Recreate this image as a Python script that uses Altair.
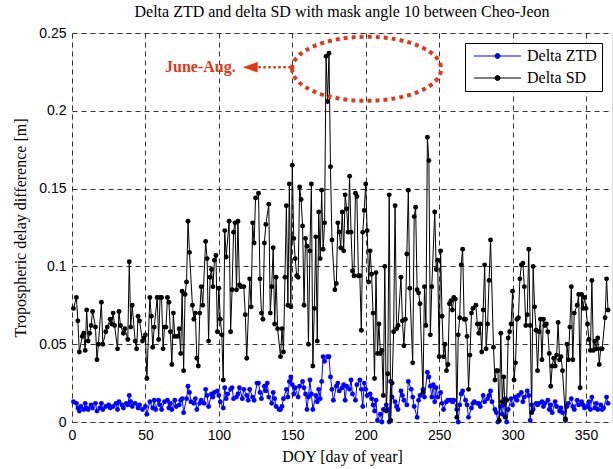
import altair as alt
import pandas as pd

# ---------------- data ----------------
SD_DAY = [1,3,4,5,7,8,9,10,11,12,13,14,16,17,18,20,21,23,24,26,27,28,29,31,32,33,35,36,38,39,40,41,43,44,45,46,48,49,50,51,53,54,55,56,58,59,
          60,61,62,63,64,65,66,67,68,69,70,72,73,74,75,76,77,78,79,80,82,83,84,85,86,87,88,89,91,92,93,94,95,96,97,98,99,100,101,102,103,104,105,107,108,109,110,111,112,113,114,115,117,118,119,
          121,122,123,124,125,127,128,129,130,131,132,134,135,136,137,138,139,140,142,143,144,145,146,147,148,149,150,151,152,153,154,155,156,157,158,159,160,161,162,163,164,165,166,167,168,169,170,171,172,173,174,175,176,177,179,180,
          181,182,183,184,185,186,187,188,189,190,191,192,193,194,195,196,197,198,199,200,201,202,203,204,205,206,207,208,209,210,211,212,213,214,215,216,217,218,219,220,221,222,224,225,226,227,228,229,230,232,233,234,235,236,237,239,240,
          241,242,243,244,245,247,248,249,250,251,252,253,254,255,256,257,258,259,260,261,262,263,264,265,266,267,268,269,270,271,272,273,275,276,277,278,279,280,281,282,283,284,285,287,288,289,290,291,292,293,294,295,296,297,298,299,300,
          301,302,303,304,305,306,307,308,309,310,311,312,313,314,315,316,317,318,319,320,321,322,323,324,325,326,327,328,329,330,331,332,333,334,336,337,338,339,340,341,342,344,345,346,347,348,349,350,351,352,353,354,355,356,357,358,359,360,361,363,364,365]
SD_VAL = [0.073,0.080,0.065,0.045,0.055,0.057,0.046,0.072,0.052,0.057,0.062,0.071,0.061,0.040,0.050,0.077,0.050,0.058,0.061,0.066,0.063,0.070,0.062,0.047,0.071,0.062,0.057,0.060,0.053,0.103,0.061,0.075,0.052,0.047,0.068,0.065,0.052,0.054,0.056,0.028,0.080,0.068,0.048,0.061,0.080,0.053,
          0.080,0.080,0.047,0.061,0.061,0.080,0.077,0.058,0.037,0.070,0.055,0.055,0.060,0.044,0.084,0.033,0.082,0.090,0.129,0.109,0.075,0.066,0.070,0.041,0.036,0.070,0.087,0.075,0.116,0.105,0.052,0.093,0.098,0.087,0.104,0.107,0.058,0.086,0.066,0.056,0.027,0.123,0.106,0.129,0.058,0.085,0.122,0.128,0.085,0.129,0.088,0.087,0.087,0.069,0.041,
          0.092,0.074,0.128,0.115,0.144,0.147,0.092,0.070,0.066,0.115,0.127,0.140,0.070,0.087,0.112,0.063,0.093,0.060,0.042,0.060,0.045,0.093,0.139,0.075,0.153,0.074,0.165,0.118,0.105,0.094,0.093,0.151,0.143,0.126,0.075,0.118,0.113,0.050,0.110,0.153,0.036,0.073,0.119,0.052,0.135,0.105,0.149,0.111,0.128,0.235,0.206,0.237,0.164,0.117,0.085,0.089,
          0.128,0.122,0.112,0.135,0.110,0.146,0.137,0.122,0.158,0.122,0.097,0.094,0.147,0.145,0.094,0.094,0.059,0.122,0.136,0.153,0.123,0.090,0.110,0.095,0.070,0.028,0.096,0.044,0.063,0.044,0.046,0.017,0.100,0.007,0.031,0.146,0.001,0.025,0.058,0.139,0.060,0.062,0.093,0.065,0.049,0.066,0.108,0.149,0.086,0.038,0.132,0.138,0.085,0.083,0.076,0.019,0.087,
          0.062,0.183,0.168,0.056,0.087,0.135,0.098,0.104,0.042,0.110,0.068,0.042,0.050,0.033,0.037,0.076,0.078,0.072,0.080,0.079,0.003,0.056,0.067,0.101,0.111,0.066,0.066,0.055,0.021,0.043,0.070,0.073,0.075,0.063,0.057,0.063,0.045,0.072,0.101,0.047,0.063,0.091,0.117,0.048,0.027,0.033,0.033,0.001,0.057,0.013,0.029,0.003,0.014,0.054,0.058,0.063,0.084,
          0.027,0.038,0.066,0.067,0.092,0.101,0.102,0.087,0.062,0.069,0.111,0.062,0.006,0.100,0.074,0.059,0.033,0.058,0.066,0.040,0.066,0.062,0.063,0.058,0.044,0.023,0.036,0.041,0.036,0.043,0.064,0.040,0.042,0.033,0.002,0.050,0.040,0.061,0.087,0.040,0.070,0.075,0.082,0.022,0.082,0.073,0.080,0.073,0.063,0.053,0.046,0.091,0.046,0.052,0.047,0.054,0.037,0.047,0.047,0.067,0.092,0.072]

ZTD_DAY = [1,3,4,5,6,8,9,10,11,13,14,16,17,19,20,21,23,25,26,28,30,31,32,34,35,37,38,39,40,41,43,45,46,48,50,51,53,55,56,57,59,60,
           61,63,65,66,67,68,70,71,73,74,75,76,78,79,80,81,83,84,85,87,88,90,91,92,93,95,96,97,99,100,101,103,104,105,106,108,109,110,112,113,114,116,117,119,120,
           121,123,124,126,127,128,129,131,132,133,134,136,137,138,139,141,142,143,144,146,147,148,149,150,151,152,154,155,157,158,159,160,161,162,163,164,166,167,168,169,170,171,172,174,175,176,177,178,180,
           181,182,184,185,186,187,189,190,191,193,194,196,197,198,199,200,201,203,204,205,206,207,208,210,211,212,214,215,216,217,218,220,221,222,224,225,226,228,229,231,232,233,235,236,237,239,240,
           242,243,244,245,246,247,248,249,251,252,253,255,256,258,259,260,262,263,264,265,266,268,269,270,272,273,274,276,277,278,280,281,283,284,285,286,288,289,290,292,293,294,295,296,297,299,300,
           302,303,304,306,307,308,310,311,312,313,314,316,317,318,320,321,322,324,325,326,327,329,330,332,333,334,336,337,338,340,341,342,344,345,347,348,349,351,352,353,354,356,357,358,360,361,362,364,365]
ZTD_VAL = [0.013,0.012,0.009,0.007,0.010,0.008,0.012,0.009,0.008,0.011,0.009,0.012,0.007,0.009,0.012,0.008,0.010,0.011,0.009,0.010,0.012,0.008,0.013,0.011,0.009,0.012,0.011,0.017,0.013,0.010,0.012,0.009,0.011,0.008,0.010,0.005,0.013,0.009,0.014,0.008,0.014,0.011,
           0.008,0.013,0.014,0.009,0.012,0.008,0.014,0.010,0.011,0.014,0.015,0.006,0.015,0.023,0.019,0.013,0.012,0.015,0.008,0.012,0.014,0.012,0.021,0.017,0.010,0.018,0.016,0.019,0.020,0.017,0.013,0.009,0.022,0.015,0.018,0.021,0.022,0.015,0.016,0.018,0.022,0.015,0.021,0.017,0.014,
           0.021,0.016,0.014,0.025,0.025,0.019,0.015,0.023,0.020,0.025,0.016,0.012,0.019,0.015,0.010,0.008,0.008,0.010,0.015,0.021,0.016,0.026,0.029,0.024,0.018,0.022,0.016,0.023,0.026,0.022,0.018,0.008,0.016,0.027,0.018,0.008,0.017,0.013,0.021,0.015,0.026,0.042,0.039,0.042,0.042,0.029,0.021,0.014,0.023,
           0.025,0.020,0.022,0.024,0.014,0.023,0.021,0.027,0.018,0.014,0.024,0.027,0.021,0.010,0.025,0.021,0.017,0.018,0.015,0.011,0.007,0.014,0.001,0.005,0.000,0.008,0.011,0.008,0.000,0.026,0.016,0.013,0.010,0.008,0.020,0.017,0.014,0.011,0.026,0.021,0.016,0.010,0.003,0.014,0.017,0.021,0.016,
           0.032,0.029,0.023,0.016,0.024,0.013,0.022,0.016,0.019,0.012,0.008,0.013,0.014,0.014,0.013,0.014,0.008,0.000,0.011,0.018,0.020,0.014,0.011,0.003,0.009,0.012,0.013,0.012,0.012,0.010,0.017,0.013,0.015,0.017,0.020,0.013,0.008,0.006,0.000,0.010,0.005,0.011,0.015,0.000,0.008,0.015,0.011,
           0.016,0.014,0.017,0.019,0.013,0.016,0.020,0.017,0.001,0.011,0.008,0.012,0.011,0.012,0.013,0.010,0.012,0.014,0.008,0.011,0.006,0.013,0.010,0.007,0.009,0.006,0.001,0.010,0.012,0.015,0.010,0.008,0.014,0.011,0.013,0.011,0.009,0.010,0.013,0.008,0.016,0.009,0.012,0.008,0.011,0.008,0.009,0.016,0.012]

SERIES = ["Delta ZTD", "Delta SD"]
COLORS = ["#0000FF", "#000000"]
X_TICKS = [0, 50, 100, 150, 200, 250, 300, 350]
Y_TICKS = [0, 0.05, 0.1, 0.15, 0.2, 0.25]

# annotation (June-Aug. highlight)
ELLIPSE_DOY = [200.6]
ELLIPSE_VAL = [0.227]
ARROW_FROM = [149.0]
ARROW_TO = [125.0]
ARROW_VAL = [0.228]
HEAD_DOY = [121.5]
LABEL_DOY = [111.5]
LABEL_TEXT = ["June-Aug."]
RED = "#DD3A1C"

ztd = pd.DataFrame({"doy": ZTD_DAY, "val": ZTD_VAL, "series": SERIES[0]})
sd = pd.DataFrame({"doy": SD_DAY, "val": SD_VAL, "series": SERIES[1]})

xscale = alt.Scale(domain=[0, 367.7], nice=False, zero=False)
yscale = alt.Scale(domain=[0, 0.25], nice=False, zero=False)

# legend glyph: a line with a dot in the middle (unit = 7 px)
LEG_PATH = ("M-0.57,0L6.14,0M3.15,0A0.36,0.36,0,1,1,2.43,0"
            "A0.36,0.36,0,1,1,3.15,0Z")

xaxis = alt.Axis(values=X_TICKS, title="DOY [day of year]", labelFont="Liberation Sans",
                 labelFontSize=14, labelColor="black", labelPadding=6, ticks=False, domain=False,
                 grid=True, gridDash=[5, 4], gridColor="#333333", gridWidth=1,
                 titleFont="Liberation Serif", titleFontSize=16, titleFontWeight="normal",
                 titleColor="black", titlePadding=6, labelFlush=False)
yaxis = alt.Axis(values=Y_TICKS, format="~g", title="Tropospheric delay difference [m]",
                 labelFont="Liberation Sans", labelFontSize=14, labelColor="black", labelPadding=6,
                 ticks=False, domain=False, grid=True, gridDash=[5, 4], gridColor="#333333",
                 gridWidth=1, titleFont="Liberation Serif", titleFontSize=16,
                 titleFontWeight="normal", titleColor="black", titlePadding=10, labelFlush=False)

color = alt.Color("series:N", scale=alt.Scale(domain=SERIES, range=COLORS), title=None,
                  legend=alt.Legend(orient="none", legendX=393, legendY=10, direction="vertical",
                                    fillColor="white", strokeColor="black", padding=5,
                                    symbolType=LEG_PATH, symbolSize=196, symbolStrokeWidth=1,
                                    labelFont="Liberation Serif", labelFontSize=16,
                                    labelColor="black", labelOffset=41, rowPadding=6,
                                    labelExpr="datum.label + '  '"))


def series(df):
    return alt.Chart(df).mark_line(
        strokeWidth=1, point=alt.OverlayMarkDef(filled=True, size=24, opacity=1)
    ).encode(
        x=alt.X("doy:Q", scale=xscale, axis=xaxis),
        y=alt.Y("val:Q", scale=yscale, axis=yaxis),
        color=color,
    )


ann_ell = alt.Chart(pd.DataFrame({"doy": ELLIPSE_DOY, "val": ELLIPSE_VAL})).mark_point(
    shape="M-1,0A1,0.43,0,1,1,1,0A1,0.43,0,1,1,-1,0Z", size=22201, filled=False,
    stroke=RED, strokeWidth=4, strokeDash=[4, 4], opacity=1
).encode(x=alt.X("doy:Q", scale=xscale), y=alt.Y("val:Q", scale=yscale))

ann_line = alt.Chart(pd.DataFrame({"a": ARROW_FROM, "b": ARROW_TO, "val": ARROW_VAL})).mark_rule(
    color=RED, strokeWidth=2.5, strokeDash=[2.5, 2.5]
).encode(x=alt.X("a:Q", scale=xscale), x2="b:Q", y=alt.Y("val:Q", scale=yscale))

ann_head = alt.Chart(pd.DataFrame({"doy": HEAD_DOY, "val": ARROW_VAL})).mark_point(
    shape="M-1,0L1,-0.7L1,0.7Z", size=196, filled=True, fill=RED, stroke=RED,
    strokeWidth=0.5, opacity=1
).encode(x=alt.X("doy:Q", scale=xscale), y=alt.Y("val:Q", scale=yscale))

ann_text = alt.Chart(pd.DataFrame({"doy": LABEL_DOY, "val": ARROW_VAL, "t": LABEL_TEXT})).mark_text(
    align="right", baseline="middle", font="Liberation Serif", fontSize=16, fontWeight="bold",
    color=RED
).encode(x=alt.X("doy:Q", scale=xscale), y=alt.Y("val:Q", scale=yscale), text="t:N")

chart = alt.layer(series(ztd), series(sd), ann_ell, ann_line, ann_head, ann_text).properties(
    width=540, height=389,
    title=alt.TitleParams("Delta ZTD and delta SD with mask angle 10 between Cheo-Jeon",
                          font="Liberation Serif", fontSize=16, fontWeight="normal",
                          color="black", anchor="middle", offset=6),
    autosize=alt.AutoSizeParams(type="none"),
    padding={"left": 72, "top": 33, "right": 1, "bottom": 47},
).configure_view(stroke="black", strokeWidth=1).configure(background="white")

chart.save("out.html", embed_options={"renderer": "svg", "actions": False})
